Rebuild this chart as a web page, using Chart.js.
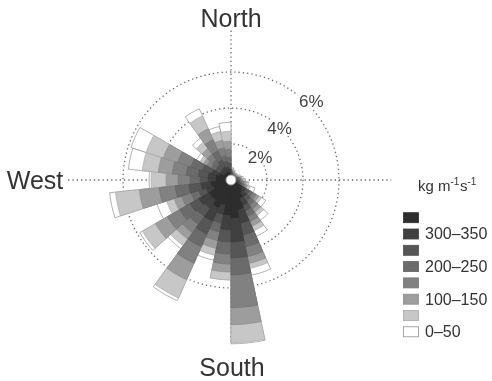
<!DOCTYPE html>
<html>
<head>
<meta charset="utf-8">
<style>
  html, body { margin: 0; padding: 0; background: #ffffff; }
  #wrap { width: 492px; height: 381px; position: relative; }
</style>
<script src="https://cdn.jsdelivr.net/npm/chart.js@4/dist/chart.umd.min.js"></script>
</head>
<body>
<div id="wrap"><canvas id="rose" width="492" height="381"></canvas></div>
<script>
// Direction sectors: 30 sectors of 12 degrees, clockwise from north
const sectorLabels = [
  '0-12', '12-24', '24-36', '36-48', '48-60', '60-72', '72-84', '84-96', '96-108', '108-120',
  '120-132', '132-144', '144-156', '156-168', '168-180', '180-192', '192-204', '204-216', '216-228', '228-240',
  '240-252', '252-264', '264-276', '276-288', '288-300', '300-312', '312-324', '324-336', '336-348', '348-360'
];

// Flux classes, strongest first (innermost ring first)
const fluxClasses = ['>350', '300–350', '250–300', '200–250', '150–200', '100–150', '50–100', '0–50'];
// Legend text next to each swatch, top to bottom
const legendLabels = ['', '300–350', '', '200–250', '', '100–150', '', '0–50'];
const fluxColors = ['#2d2d2d', '#404040', '#565656', '#6b6b6b', '#818181', '#9d9d9d', '#c7c7c7', '#ffffff'];
const fluxBorders = ['#2d2d2d', '#3c3c3c', '#4f4f4f', '#636363', '#767676', '#8e8e8e', '#a9a9a9', '#8f8f8f'];

// Frequency (%) of each flux class per direction sector
const freqOver350 = [0.17,0.11,0.11,0.11,0.11,0.11,0.17,0.17,0.22,0.28,0.67,0.83,1.11,1.67,2.11,1.94,1.39,1.67,1.39,1.39,1.0,1.11,0.83,0.83,0.67,0.44,0.44,0.44,0.44,0.33];
const freq300to350 = [0.11,0.11,0.06,0.06,0.06,0.11,0.11,0.11,0.17,0.17,0.28,0.33,0.44,0.78,1.33,0.83,0.56,0.83,0.56,0.67,0.44,0.56,0.44,0.44,0.44,0.28,0.28,0.33,0.28,0.28];
const freq250to300 = [0.11,0.06,0.06,0.06,0.06,0.06,0.11,0.11,0.11,0.17,0.22,0.28,0.33,0.67,0.89,0.67,0.5,0.78,0.56,0.56,0.44,0.67,0.44,0.56,0.56,0.28,0.33,0.44,0.33,0.33];
const freq200to250 = [0.06,0.06,0.06,0.06,0.06,0.06,0.06,0.11,0.11,0.11,0.22,0.28,0.33,0.67,0.94,0.67,0.5,0.78,0.56,0.67,0.44,0.78,0.56,0.67,0.67,0.28,0.33,0.56,0.33,0.33];
const freq150to200 = [0.06,0.06,0.06,0.06,0.06,0.06,0.06,0.06,0.11,0.11,0.22,0.28,0.33,0.56,1.83,0.56,0.5,1.0,0.56,0.78,0.56,0.89,0.67,0.78,0.78,0.28,0.39,0.67,0.44,0.44];
const freq100to150 = [0.06,0.06,0.06,0.06,0.06,0.06,0.06,0.06,0.11,0.11,0.17,0.22,0.28,0.39,0.94,0.44,0.44,1.0,0.44,0.78,0.44,1.11,0.67,0.78,0.83,0.22,0.39,0.67,0.44,0.44];
const freq50to100 = [0.06,0.06,0.03,0.03,0.03,0.06,0.06,0.11,0.11,0.17,0.17,0.22,0.28,0.28,1.0,0.44,0.39,1.11,0.44,0.83,0.44,1.33,0.83,0.89,1.0,0.22,0.44,0.78,0.5,0.56];
const freq0to50 = [0.06,0.06,0.03,0.03,0.03,0.06,0.06,0.06,0.06,0.28,0.28,0.33,0.33,0.39,0.06,0,0.28,0.17,0.22,0.17,0.56,0.33,0.11,0.78,0.89,0.22,0.28,0.44,0.28,0.5];

const ringTicks = [2, 4, 6];
const compassNames = { north: 'North', west: 'West', south: 'South' };

const classSeries = [freqOver350, freq300to350, freq250to300, freq200to250,
                     freq150to200, freq100to150, freq50to100, freq0to50];

// Stacked rose: each ring is drawn from the centre out to its cumulative total,
// inner rings painted over outer ones.
const running = sectorLabels.map(() => 0);
const datasets = classSeries.map((series, i) => {
  const cumulative = series.map((v, k) => (running[k] = +(running[k] + v).toFixed(4)));
  return {
    label: fluxClasses[i],
    data: cumulative,
    backgroundColor: fluxColors[i],
    borderColor: fluxBorders[i],
    borderWidth: 0.7,
    clip: false
  };
});

const FONT = '"Liberation Sans", Arial, Helvetica, sans-serif';

const roseDecor = {
  id: 'roseDecor',
  beforeDatasetsDraw(chart) {
    const r = chart.scales.r;
    const ctx = chart.ctx;
    const cx = r.xCenter, cy = r.yCenter;
    const d = v => r.getDistanceFromCenterForValue(v);
    ctx.save();
    ctx.strokeStyle = '#6a6a6a';
    ctx.lineWidth = 1.3;
    ctx.setLineDash([1.3, 3]);
    ctx.beginPath();
    ctx.moveTo(cx - d(9.05), cy); ctx.lineTo(cx + d(8.9), cy);
    ctx.moveTo(cx, cy - d(8.3)); ctx.lineTo(cx, cy + d(9.0));
    ctx.stroke();
    ctx.restore();
  },
  afterDatasetsDraw(chart) {
    const r = chart.scales.r;
    const ctx = chart.ctx;
    const cx = r.xCenter, cy = r.yCenter;
    const d = v => r.getDistanceFromCenterForValue(v);
    ctx.save();

    // calm centre
    ctx.beginPath();
    ctx.arc(cx, cy, 5, 0, Math.PI * 2);
    ctx.fillStyle = '#ffffff';
    ctx.fill();
    ctx.lineWidth = 1;
    ctx.strokeStyle = '#a0a0a0';
    ctx.stroke();

    // ring labels
    const ringPlaces = [[2.05, 52], [3.95, 43], [6.25, 45.5]];
    ctx.font = '17px ' + FONT;
    ctx.textAlign = 'center';
    ctx.textBaseline = 'middle';
    ringTicks.forEach((t, i) => {
      const [val, deg] = ringPlaces[i];
      const a = deg * Math.PI / 180;
      const x = cx + d(val) * Math.sin(a);
      const y = cy - d(val) * Math.cos(a);
      const txt = t + '%';
      const w = ctx.measureText(txt).width;
      ctx.fillStyle = '#ffffff';
      ctx.fillRect(x - w / 2 - 1, y - 8, w + 2, 16);
      ctx.fillStyle = '#444444';
      ctx.fillText(txt, x, y + 1);
    });

    // compass words
    ctx.font = '25px ' + FONT;
    ctx.fillStyle = '#333333';
    ctx.textBaseline = 'alphabetic';
    ctx.textAlign = 'center';
    ctx.fillText(compassNames.north, cx, 27);
    ctx.fillText(compassNames.south, cx + 1, 376);
    ctx.fillText(compassNames.west, 35, cy + 9);

    // unit title
    ctx.textAlign = 'left';
    let x = 418;
    const base = 191;
    const parts = [['kg m', 15, 0], ['-1', 10, -6], ['s', 15, 0], ['-1', 10, -6]];
    parts.forEach(([t, size, dy]) => {
      ctx.font = size + 'px ' + FONT;
      ctx.fillText(t, x, base + dy);
      x += ctx.measureText(t).width + (size === 10 ? 0.5 : 0);
    });

    // legend swatches
    ctx.font = '16px ' + FONT;
    ctx.textBaseline = 'middle';
    fluxClasses.forEach((cls, i) => {
      const y = 217.7 + i * 16.3;
      ctx.fillStyle = fluxColors[i];
      ctx.fillRect(403.5, y - 5, 15, 10);
      ctx.strokeStyle = fluxBorders[i];
      ctx.lineWidth = 0.8;
      ctx.strokeRect(403.5, y - 5, 15, 10);
      if (legendLabels[i]) {
        ctx.fillStyle = '#333333';
        ctx.fillText(legendLabels[i], 425, y + 1);
      }
    });
    ctx.restore();
  }
};

new Chart(document.getElementById('rose'), {
  type: 'polarArea',
  data: { labels: sectorLabels, datasets },
  options: {
    responsive: false,
    animation: false,
    devicePixelRatio: 1,
    layout: { padding: { left: 51, right: 81, top: 0, bottom: 21 } },
    plugins: { legend: { display: false }, tooltip: { enabled: false } },
    scales: {
      r: {
        min: 0,
        max: 10,
        startAngle: 0,
        ticks: { display: false, stepSize: 2 },
        pointLabels: { display: false },
        angleLines: { display: false },
        grid: {
          circular: true,
          lineWidth: 1.3,
          color: c => (ringTicks.includes(c.tick.value) ? '#6a6a6a' : 'rgba(0,0,0,0)')
        },
        border: { dash: [1.3, 3] }
      }
    }
  },
  plugins: [roseDecor]
});
</script>
</body>
</html>
